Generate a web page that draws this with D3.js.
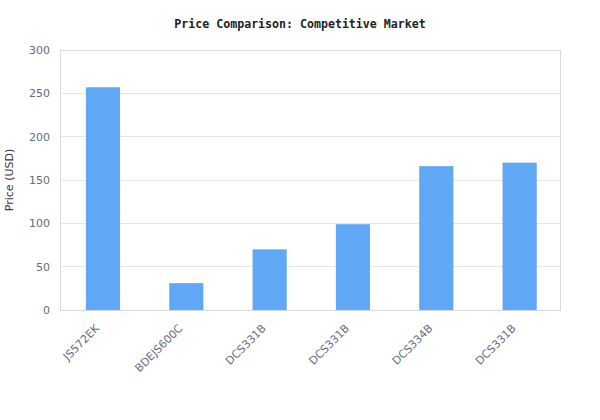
<!DOCTYPE html>
<html><head><meta charset="utf-8">
<script src="https://cdn.jsdelivr.net/npm/d3@7"></script>
<style>body{margin:0;background:#fff}svg{display:block}</style>
</head><body><svg id="c" width="600" height="420"></svg>
<script>
const categories = ["JS572EK","BDEJS600C","DCS331B","DCS331B","DCS334B","DCS331B"];
const prices = [257, 31, 70, 99, 166, 170];
const yTicks = [0, 50, 100, 150, 200, 250, 300];
const title = "Price Comparison: Competitive Market";
const yLabel = "Price (USD)";

const svg = d3.select("#c");
const m = {l:60, r:40, t:50, b:110};
const W = 600, H = 420;
const iw = W - m.l - m.r, ih = H - m.t - m.b;
const g = svg.append("g").attr("transform", `translate(${m.l},${m.t})`);

const x = d3.scaleBand().domain(d3.range(categories.length)).range([1.3, iw + 1.3]).padding(0);
const y = d3.scaleLinear().domain([0, 300]).range([ih, 0]);

// grid
g.append("g").selectAll("line").data(yTicks).join("line")
  .attr("x1", 0).attr("x2", iw).attr("y1", d => y(d)).attr("y2", d => y(d))
  .attr("stroke", "#e5e5e5").attr("stroke-width", 1).attr("shape-rendering","crispEdges");

// bars
const bw = x.bandwidth() * 0.41;
g.append("g").selectAll("rect").data(prices).join("rect")
  .attr("x", (d, i) => x(i) + (x.bandwidth() - bw) / 2)
  .attr("width", bw)
  .attr("y", d => y(d)).attr("height", d => ih - y(d))
  .attr("fill", "#60a8f5");

// frame
g.append("rect").attr("x", 0).attr("y", 0).attr("width", iw).attr("height", ih)
  .attr("fill", "none").attr("stroke", "#d9d9d9").attr("shape-rendering","crispEdges");

// y axis
const ya = g.append("g").call(d3.axisLeft(y).tickValues(yTicks).tickSize(0).tickPadding(10));
ya.select(".domain").remove();
ya.selectAll("text").attr("fill", "#666a80").attr("font-family", "DejaVu Sans, sans-serif").attr("font-size", 11);

// x axis
const xa = g.append("g").attr("transform", `translate(0,${ih})`)
  .call(d3.axisBottom(x).tickFormat(i => categories[i]).tickSize(0));
xa.select(".domain").remove();
xa.selectAll("text").attr("fill", "#666a80").attr("font-family", "DejaVu Sans, sans-serif").attr("font-size", 11)
  .attr("text-anchor", "end").attr("x", 0).attr("y", 0).attr("dx", 0).attr("dy", 0)
  .attr("transform", "translate(-3,19) rotate(-45)");

// titles
svg.append("text").attr("x", W / 2).attr("y", 27.5).attr("text-anchor", "middle")
  .attr("font-family", "DejaVu Sans Mono, monospace").attr("font-weight", "bold").attr("font-size", 11.6)
  .attr("fill", "#222").text(title);
svg.append("text").attr("transform", `translate(13,${m.t + ih / 2}) rotate(-90)`).attr("text-anchor", "middle")
  .attr("font-family", "DejaVu Sans, sans-serif").attr("font-size", 11).attr("fill", "#333").text(yLabel);
</script></body></html>
